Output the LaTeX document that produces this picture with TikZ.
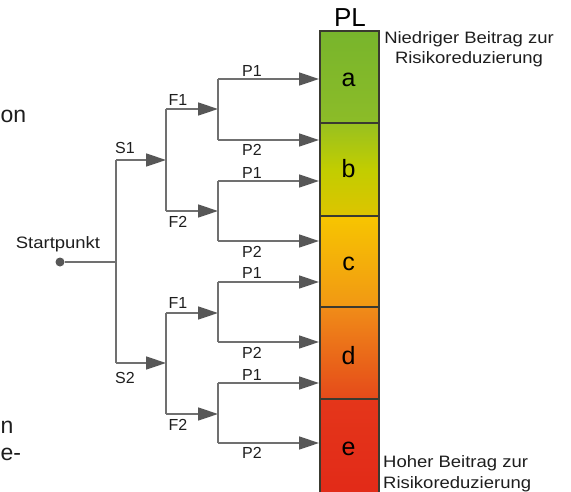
\documentclass[tikz,border=0pt]{standalone}
\usepackage{fontspec}
\setmainfont{Liberation Sans}
\newfontfamily\widesans[FakeStretch=1.12]{Liberation Sans}
\usetikzlibrary{arrows.meta}
\definecolor{linegray}{HTML}{707070}
\definecolor{tipgray}{HTML}{575757}
\definecolor{txt}{HTML}{1E1E1E}
\definecolor{cellborder}{HTML}{3A3A30}
\begin{document}
\begin{tikzpicture}[x=1pt,y=-1pt,
  conn/.style={draw=linegray, line width=1.5pt},
  arr/.style={conn, -{Triangle[length=20pt,width=13pt,fill=tipgray,color=tipgray]}},
  lbl/.style={anchor=base, inner sep=0pt, text=txt, font=\fontsize{16}{19}\selectfont},
  desc/.style={inner sep=0pt, text=txt, font=\widesans\fontsize{16.5}{20.5}\selectfont},
  frag/.style={anchor=base west, inner sep=0pt, text=txt, font=\fontsize{23}{28}\selectfont},
  cell/.style={draw=cellborder, line width=1.3pt, minimum width=59pt, inner sep=0pt},
  letter/.style={anchor=base, inner sep=0pt, text=black, font=\fontsize{25}{30}\selectfont}]
\useasboundingbox (0,0) rectangle (571,491);
\fill[white] (0,0) rectangle (571,491);

% text fragments at left edge
\node[frag] (f1) at (0.5,122) {on};
\node[frag] (f2) at (0.5,433) {n};
\node[frag] (f3) at (0.5,460) {e-};

% PL bar cells
\node[cell, minimum height=92pt, top color={rgb,255:red,120;green,181;blue,44}, bottom color={rgb,255:red,140;green,188;blue,40}] (ca) at (349.5,77) {};
\node[cell, minimum height=93pt, top color={rgb,255:red,152;green,193;blue,32}, bottom color={rgb,255:red,221;green,196;blue,0}, middle color={rgb,255:red,194;green,205;blue,0}] (cb) at (349.5,169.5) {};
\node[cell, minimum height=91pt, top color={rgb,255:red,247;green,197;blue,0}, bottom color={rgb,255:red,241;green,152;blue,20}] (cc) at (349.5,261.5) {};
\node[cell, minimum height=92pt, top color={rgb,255:red,240;green,140;blue,24}, bottom color={rgb,255:red,229;green,74;blue,26}] (cd) at (349.5,353) {};
\node[cell, minimum height=96pt, top color={rgb,255:red,228;green,54;blue,26}, bottom color={rgb,255:red,226;green,42;blue,24}] (ce) at (349.5,447) {};

\node[letter] (ta) at (348.5,86) {a};
\node[letter] (tb) at (348.5,177) {b};
\node[letter] (tc) at (348.5,270) {c};
\node[letter] (td) at (348.5,364) {d};
\node[letter] (te) at (348.5,455) {e};

\node[anchor=base, inner sep=0pt, text=black, font=\fontsize{26}{30}\selectfont] (pl) at (350,26) {PL};

\node[desc, align=center, anchor=north] (low) at (469,31) {Niedriger Beitrag zur\\Risikoreduzierung};
\node[desc, align=left, anchor=south west] (high) at (383,492) {Hoher Beitrag zur\\Risikoreduzierung};

% junction coordinates
\coordinate (j0) at (116,262);
\coordinate (s1) at (116,160);
\coordinate (s2) at (116,363);
\coordinate (g1) at (166,160);
\coordinate (g2) at (166,363);
\coordinate (f11) at (166,109);
\coordinate (f12) at (166,211);
\coordinate (f21) at (166,313);
\coordinate (f22) at (166,414);
\coordinate (h11) at (218,109);
\coordinate (h12) at (218,211);
\coordinate (h21) at (218,313);
\coordinate (h22) at (218,414);
\coordinate (p1a) at (218,79);  \coordinate (e1a) at (319,79);
\coordinate (p1b) at (218,140); \coordinate (e1b) at (319,140);
\coordinate (p2a) at (218,181); \coordinate (e2a) at (319,181);
\coordinate (p2b) at (218,241); \coordinate (e2b) at (319,241);
\coordinate (p3a) at (218,282); \coordinate (e3a) at (319,282);
\coordinate (p3b) at (218,342); \coordinate (e3b) at (319,342);
\coordinate (p4a) at (218,383); \coordinate (e4a) at (319,383);
\coordinate (p4b) at (218,443); \coordinate (e4b) at (319,443);

% start point
\node[circle, fill=tipgray, inner sep=0pt, minimum size=9pt] (start) at (60,262) {};
\node[lbl, font=\widesans\fontsize{16.5}{19}\selectfont] (startlbl) at (58,248) {Startpunkt};

\draw[conn] (start) -- (j0);
\draw[conn] (s1) -- (s2);
\draw[arr] (s1) -- (g1);
\draw[arr] (s2) -- (g2);

\draw[conn] (f11) -- (f12);
\draw[conn] (f21) -- (f22);
\draw[arr] (f11) -- (h11);
\draw[arr] (f12) -- (h12);
\draw[arr] (f21) -- (h21);
\draw[arr] (f22) -- (h22);

\draw[conn] (p1a) -- (p1b);
\draw[conn] (p2a) -- (p2b);
\draw[conn] (p3a) -- (p3b);
\draw[conn] (p4a) -- (p4b);
\foreach \g in {1,2,3,4}{
  \draw[arr] (p\g a) -- (e\g a);
  \draw[arr] (p\g b) -- (e\g b);
}

% labels
\node[lbl] (ls1) at (125,153) {S1};
\node[lbl] (ls2) at (125,383) {S2};
\node[lbl] (lf11) at (178,105) {F1};
\node[lbl] (lf12) at (178,227) {F2};
\node[lbl] (lf21) at (178,308) {F1};
\node[lbl] (lf22) at (178,430) {F2};
\node[lbl] (lp1a) at (252,76) {P1};
\node[lbl] (lp1b) at (252,155) {P2};
\node[lbl] (lp2a) at (252,178) {P1};
\node[lbl] (lp2b) at (252,257) {P2};
\node[lbl] (lp3a) at (252,278) {P1};
\node[lbl] (lp3b) at (252,358) {P2};
\node[lbl] (lp4a) at (252,380) {P1};
\node[lbl] (lp4b) at (252,458) {P2};
\end{tikzpicture}
\end{document}
